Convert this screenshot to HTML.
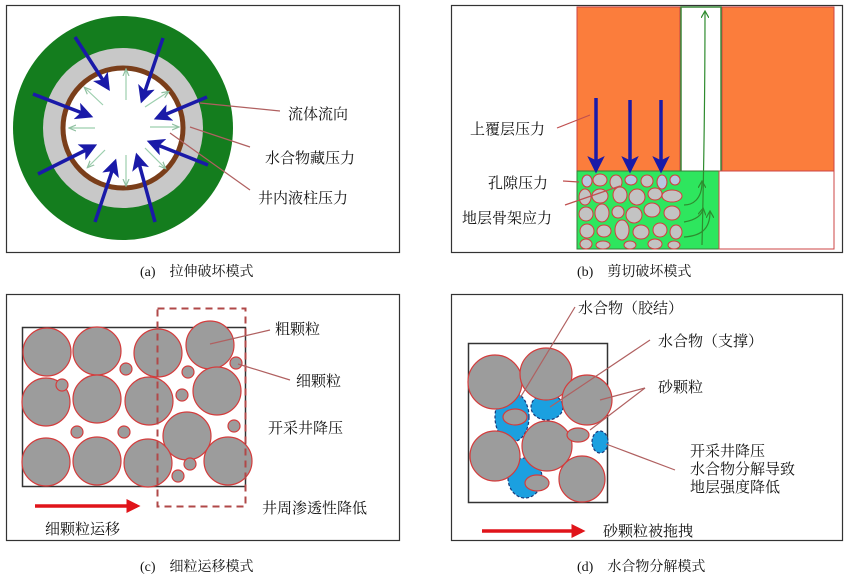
<!DOCTYPE html>
<html><head><meta charset="utf-8"><style>
html,body{margin:0;padding:0;background:#fff;}
svg{display:block;}
text{font-family:"Liberation Serif","Noto Serif CJK SC","Noto Sans CJK SC",serif;fill:#111;}
</style></head><body>
<svg width="850" height="577" viewBox="0 0 850 577" xmlns="http://www.w3.org/2000/svg">
<defs>
<marker id="ab" markerWidth="5" markerHeight="5" refX="4" refY="2.5" orient="auto" markerUnits="strokeWidth"><path d="M0,0 L5,2.5 L0,5 L1.2,2.5Z" fill="#1a1aa8"/></marker>
<marker id="ag" markerWidth="8" markerHeight="8" refX="6" refY="4" orient="auto" markerUnits="userSpaceOnUse"><path d="M0,0 L7,4 L0,8" fill="none" stroke="#2e8b2e" stroke-width="1.2"/></marker>
<marker id="ar" markerWidth="4" markerHeight="4" refX="3" refY="2" orient="auto" markerUnits="strokeWidth"><path d="M0,0 L4,2 L0,4Z" fill="#e0141a"/></marker>
<marker id="ak" markerWidth="8" markerHeight="8" refX="6" refY="4" orient="auto" markerUnits="userSpaceOnUse"><path d="M0,1 L7,4 L0,7" fill="none" stroke="#8fbfa0" stroke-width="1.2"/></marker>
</defs>

<!-- Panel a -->
<rect x="6.5" y="5.5" width="393" height="247" fill="#fff" stroke="#333" stroke-width="1.2"/>
<ellipse cx="123" cy="128" rx="110" ry="112" fill="#147d1e"/>
<circle cx="123" cy="128" r="80" fill="#c8c8c8"/>
<circle cx="123" cy="128" r="60" fill="#fff" stroke="#7a3e1a" stroke-width="5"/>
<g stroke="#9ccfae" stroke-width="1.2" marker-end="url(#ak)">
<line x1="126" y1="100" x2="126" y2="70"/><line x1="126" y1="155" x2="126" y2="185"/>
<line x1="95" y1="128" x2="70" y2="128"/><line x1="150" y1="127" x2="178" y2="127"/>
<line x1="145" y1="107" x2="168" y2="92"/><line x1="145" y1="148" x2="165" y2="168"/>
<line x1="105" y1="150" x2="88" y2="167"/><line x1="103" y1="105" x2="85" y2="88"/>
</g>
<g stroke="#1a1aa8" stroke-width="3.5" marker-end="url(#ab)">
<line x1="75" y1="37" x2="108" y2="88"/><line x1="163" y1="38" x2="142" y2="100"/>
<line x1="33" y1="94" x2="90" y2="116"/><line x1="207" y1="97" x2="157" y2="118"/>
<line x1="38" y1="174" x2="94" y2="146"/><line x1="208" y1="165" x2="150" y2="142"/>
<line x1="95" y1="222" x2="115" y2="162"/><line x1="155" y1="222" x2="137" y2="156"/>
</g>
<g stroke="#b06060" stroke-width="1.2">
<line x1="200" y1="103" x2="280" y2="111"/><line x1="190" y1="127" x2="250" y2="147"/>
<line x1="170" y1="133" x2="250" y2="190"/>
</g>
<text x="288" y="119" font-size="15">流体流向</text>
<text x="265" y="163" font-size="15">水合物藏压力</text>
<text x="258" y="203" font-size="15">井内液柱压力</text>
<text x="140" y="276" font-size="14">(a)　拉伸破坏模式</text>

<!-- Panel b -->
<rect x="451.5" y="5.5" width="391" height="247" fill="#fff" stroke="#333" stroke-width="1.2"/>
<rect x="577" y="7" width="103" height="165" fill="#fb7d3c" stroke="#c44" stroke-width="1"/>
<rect x="722" y="7" width="112" height="165" fill="#fb7d3c" stroke="#c44" stroke-width="1"/>
<rect x="681" y="7" width="40" height="165" fill="#fff" stroke="#3a8a3a" stroke-width="1.5"/>
<rect x="577" y="171" width="142" height="78" fill="#2ee65e" stroke="#3a7a3a" stroke-width="1"/>
<rect x="719" y="171" width="115" height="78" fill="#fff" stroke="#c44" stroke-width="1"/>
<g fill="#c3c3c3" stroke="#d43c3c" stroke-width="1">
<ellipse cx="587" cy="181" rx="5" ry="6" fill="#b9c6e0"/><ellipse cx="600" cy="180" rx="7" ry="6"/><ellipse cx="616" cy="182" rx="6" ry="7"/><ellipse cx="631" cy="180" rx="6" ry="5" fill="#b9c6e0"/><ellipse cx="647" cy="181" rx="6" ry="6"/><ellipse cx="662" cy="182" rx="5" ry="7" fill="#b9c6e0"/><ellipse cx="675" cy="180" rx="5" ry="5" fill="#b9c6e0"/>
<ellipse cx="585" cy="197" rx="6" ry="8"/><ellipse cx="600" cy="196" rx="8" ry="7"/><ellipse cx="620" cy="195" rx="7" ry="8"/><ellipse cx="637" cy="197" rx="8" ry="8"/><ellipse cx="655" cy="194" rx="7" ry="6"/><ellipse cx="672" cy="196" rx="10" ry="6"/>
<ellipse cx="586" cy="214" rx="7" ry="7"/><ellipse cx="602" cy="213" rx="7" ry="9"/><ellipse cx="618" cy="212" rx="6" ry="6"/><ellipse cx="634" cy="215" rx="8" ry="8"/><ellipse cx="652" cy="210" rx="8" ry="7"/><ellipse cx="672" cy="213" rx="8" ry="7"/>
<ellipse cx="587" cy="231" rx="7" ry="7"/><ellipse cx="604" cy="231" rx="7" ry="6"/><ellipse cx="622" cy="230" rx="7" ry="10"/><ellipse cx="641" cy="232" rx="8" ry="7"/><ellipse cx="660" cy="230" rx="7" ry="7"/><ellipse cx="676" cy="232" rx="6" ry="7"/>
<ellipse cx="586" cy="244" rx="6" ry="5"/><ellipse cx="603" cy="245" rx="7" ry="4"/><ellipse cx="630" cy="245" rx="6" ry="4"/><ellipse cx="655" cy="244" rx="7" ry="5"/><ellipse cx="674" cy="245" rx="6" ry="4"/>
</g>
<g fill="none" stroke="#2e8b2e" stroke-width="1.2" marker-end="url(#ag)">
<path d="M702,245 C705,120 705,60 705,12"/>
<path d="M684,205 C692,205 702,200 702,182"/>
<path d="M684,222 C696,220 702,215 703,209"/>
<path d="M684,237 C700,236 710,230 710,212"/>
</g>
<g stroke="#1a1aa8" stroke-width="3.5" marker-end="url(#ab)">
<line x1="596" y1="98" x2="596" y2="170"/><line x1="630" y1="100" x2="630" y2="170"/><line x1="661" y1="100" x2="661" y2="170"/>
</g>
<g stroke="#c05050" stroke-width="1.2">
<line x1="557" y1="128" x2="590" y2="115"/><line x1="563" y1="181" x2="579" y2="182"/><line x1="565" y1="205" x2="620" y2="186"/>
</g>
<text x="470" y="134" font-size="15">上覆层压力</text>
<text x="488" y="188" font-size="15">孔隙压力</text>
<text x="462" y="223" font-size="15">地层骨架应力</text>
<text x="577" y="276" font-size="14">(b)　剪切破坏模式</text>

<!-- Panel c -->
<rect x="6.5" y="294.5" width="393" height="246" fill="#fff" stroke="#333" stroke-width="1.2"/>
<rect x="22.5" y="327.5" width="223" height="159" fill="none" stroke="#333" stroke-width="1.5"/>
<g fill="#9c9c9c" stroke="#d43c3c" stroke-width="1.2">
<circle cx="47" cy="352" r="24"/><circle cx="97" cy="351" r="24"/><circle cx="158" cy="353" r="24"/><circle cx="210" cy="345" r="24"/>
<circle cx="46" cy="402" r="24"/><circle cx="97" cy="399" r="24"/><circle cx="149" cy="401" r="24"/><circle cx="217" cy="391" r="24"/>
<circle cx="187" cy="436" r="24"/>
<circle cx="46" cy="462" r="24"/><circle cx="97" cy="461" r="24"/><circle cx="148" cy="463" r="24"/><circle cx="228" cy="461" r="24"/>
<circle cx="126" cy="369" r="6"/><circle cx="62" cy="385" r="6"/><circle cx="188" cy="372" r="6"/><circle cx="182" cy="395" r="6"/><circle cx="236" cy="363" r="6"/>
<circle cx="77" cy="432" r="6"/><circle cx="124" cy="432" r="6"/><circle cx="234" cy="426" r="6"/><circle cx="190" cy="464" r="6"/><circle cx="178" cy="476" r="6"/>
</g>
<rect x="157.5" y="308.5" width="88" height="198" fill="none" stroke="#b04848" stroke-width="2" stroke-dasharray="7,5"/>
<g stroke="#b06060" stroke-width="1.2"><line x1="210" y1="344" x2="270" y2="330"/><line x1="238" y1="364" x2="290" y2="380"/></g>
<line x1="35" y1="506" x2="137" y2="506" stroke="#e0141a" stroke-width="3.5" marker-end="url(#ar)"/>
<text x="275" y="334" font-size="15">粗颗粒</text>
<text x="296" y="386" font-size="15">细颗粒</text>
<text x="268" y="433" font-size="15">开采井降压</text>
<text x="262" y="513" font-size="15">井周渗透性降低</text>
<text x="45" y="534" font-size="15">细颗粒运移</text>
<text x="140" y="571" font-size="14">(c)　细粒运移模式</text>

<!-- Panel d -->
<rect x="451.5" y="294.5" width="391" height="246" fill="#fff" stroke="#333" stroke-width="1.2"/>
<rect x="468.5" y="343.5" width="139" height="159" fill="none" stroke="#333" stroke-width="1.5"/>
<g fill="#1ba0e0" stroke="#1a3a7a" stroke-width="1.2" stroke-dasharray="3,2">
<ellipse cx="512" cy="417" rx="17" ry="25"/><ellipse cx="547" cy="407" rx="16" ry="13"/><ellipse cx="600" cy="442" rx="8" ry="11"/><ellipse cx="525" cy="478" rx="17" ry="20"/>
</g>
<g fill="#9c9c9c" stroke="#d43c3c" stroke-width="1.2">
<circle cx="495" cy="382" r="27"/><circle cx="546" cy="374" r="26"/><circle cx="587" cy="400" r="25"/>
<circle cx="495" cy="456" r="25"/><circle cx="547" cy="446" r="25"/><circle cx="582" cy="479" r="23"/>
<ellipse cx="515" cy="417" rx="12" ry="8"/><ellipse cx="578" cy="435" rx="11" ry="7"/><ellipse cx="537" cy="483" rx="12" ry="8"/>
</g>
<g stroke="#b06060" stroke-width="1.2">
<line x1="575" y1="307" x2="520" y2="398"/><line x1="650" y1="340" x2="550" y2="407"/>
<line x1="645" y1="388" x2="600" y2="400"/><line x1="645" y1="388" x2="590" y2="430"/>
<line x1="675" y1="470" x2="606" y2="444"/>
</g>
<line x1="482" y1="531" x2="582" y2="531" stroke="#e0141a" stroke-width="3.5" marker-end="url(#ar)"/>
<text x="578" y="313" font-size="15">水合物（胶结）</text>
<text x="658" y="346" font-size="15">水合物（支撑）</text>
<text x="658" y="392" font-size="15">砂颗粒</text>
<text x="690" y="456" font-size="15">开采井降压</text>
<text x="690" y="474" font-size="15">水合物分解导致</text>
<text x="690" y="492" font-size="15">地层强度降低</text>
<text x="603" y="536" font-size="15">砂颗粒被拖拽</text>
<text x="577" y="571" font-size="14">(d)　水合物分解模式</text>
</svg>
</body></html>
